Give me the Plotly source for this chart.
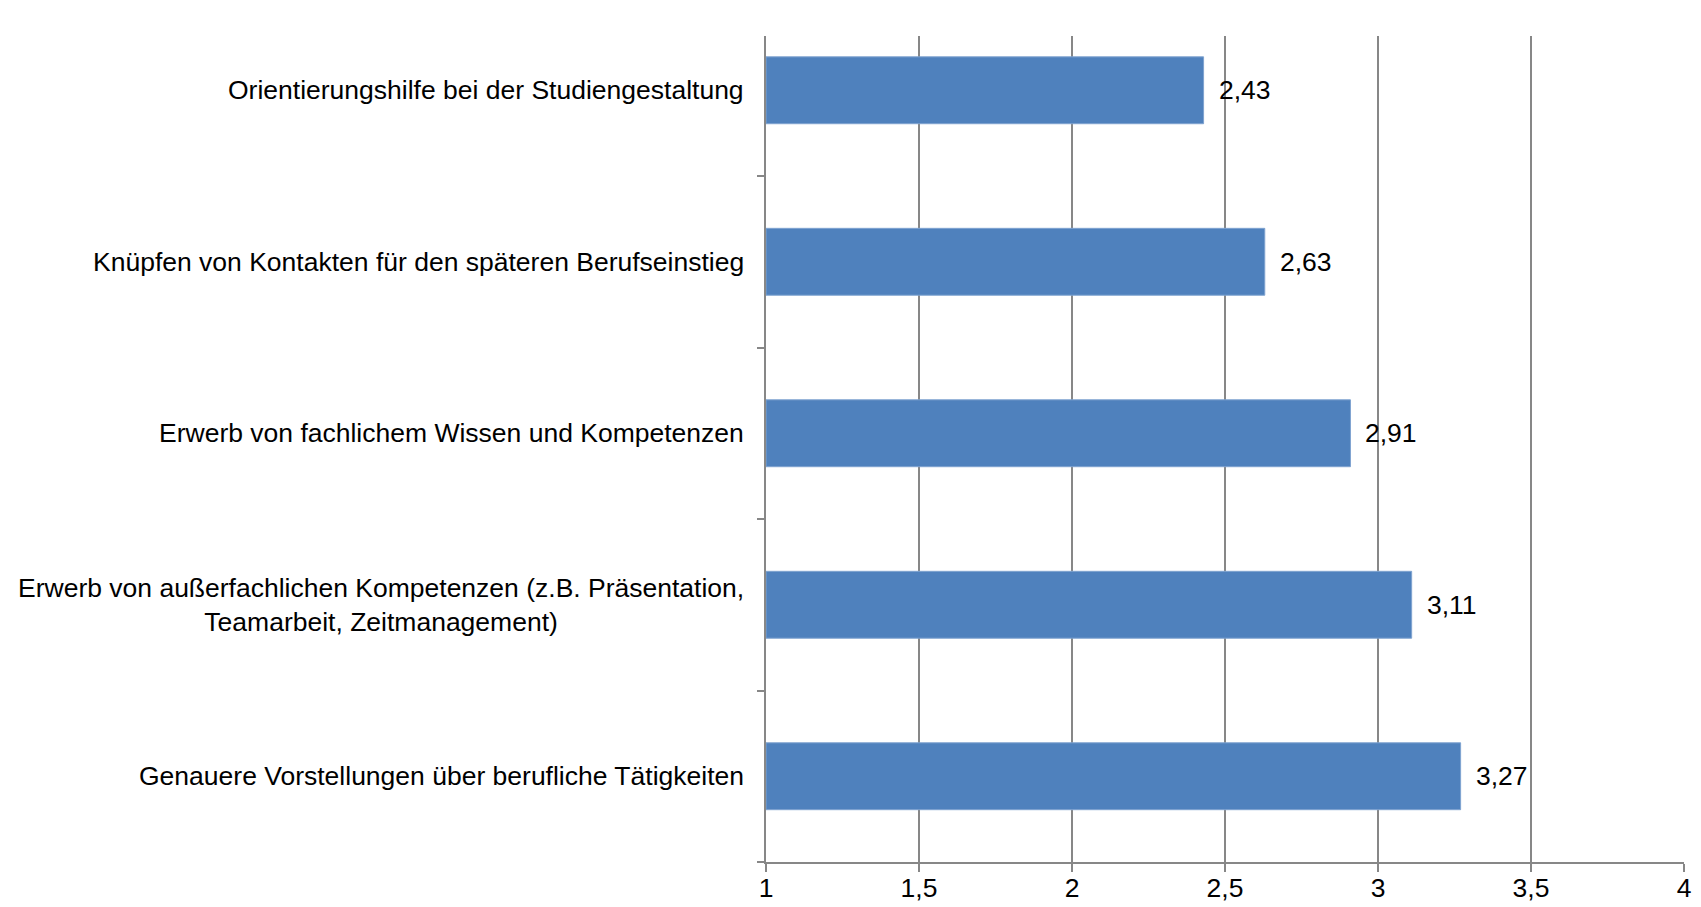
import plotly.graph_objects as go

categories = [
    "Genauere Vorstellungen über berufliche Tätigkeiten",
    "Erwerb von außerfachlichen Kompetenzen (z.B. Präsentation,<br>Teamarbeit, Zeitmanagement)",
    "Erwerb von fachlichem Wissen und Kompetenzen",
    "Knüpfen von Kontakten für den späteren Berufseinstieg",
    "Orientierungshilfe bei der Studiengestaltung",
]
values = [3.27, 3.11, 2.91, 2.63, 2.43]
value_labels = ["3,27", "3,11", "2,91", "2,63", "2,43"]
x_ticks = [1, 1.5, 2, 2.5, 3, 3.5, 4]
x_tick_labels = ["1", "1,5", "2", "2,5", "3", "3,5", "4"]

FONT = "Liberation Sans, Arial, sans-serif"
GRID = "#878787"
FS = 26.5

ypos = list(range(len(categories)))

fig = go.Figure()
fig.add_trace(go.Bar(
    x=[v - 1 for v in values],
    base=1,
    y=ypos,
    orientation="h",
    width=0.39,
    marker=dict(color="#4F81BD", line=dict(color="#7FA3D0", width=1)),
    hoverinfo="skip",
))

annotations = []
for i, (v, lab) in enumerate(zip(values, value_labels)):
    annotations.append(dict(
        x=v, y=i, xref="x", yref="y", text=lab, showarrow=False,
        xanchor="left", yanchor="middle", xshift=13,
        font=dict(family=FONT, size=FS, color="#000000"),
    ))
for i, c in enumerate(categories):
    annotations.append(dict(
        x=0, y=i, xref="paper", yref="y", text=c, showarrow=False,
        xanchor="right", yanchor="middle", align="center", xshift=-20,
        font=dict(family=FONT, size=FS, color="#000000"),
    ))

fig.update_layout(
    width=1701, height=907,
    margin=dict(l=758, r=25, t=28, b=36),
    paper_bgcolor="white", plot_bgcolor="white",
    showlegend=False,
    annotations=annotations,
    xaxis=dict(
        range=[1, 4], tickvals=x_ticks, ticktext=x_tick_labels,
        showgrid=True, gridcolor=GRID, gridwidth=1.5,
        showline=True, linecolor=GRID, linewidth=2,
        ticks="outside", ticklen=8, tickcolor=GRID, tickwidth=1.5,
        ticklabelstandoff=-7,
        tickfont=dict(family=FONT, size=FS, color="#000000"),
        zeroline=False, fixedrange=True,
    ),
    yaxis=dict(
        range=[-0.5, 4.3165], tickvals=[-0.5, 0.5, 1.5, 2.5, 3.5],
        showticklabels=False, showgrid=False,
        showline=True, linecolor=GRID, linewidth=2,
        ticks="outside", ticklen=7, tickcolor=GRID, tickwidth=1.5,
        zeroline=False, fixedrange=True,
    ),
)

fig.write_html("out.html")
